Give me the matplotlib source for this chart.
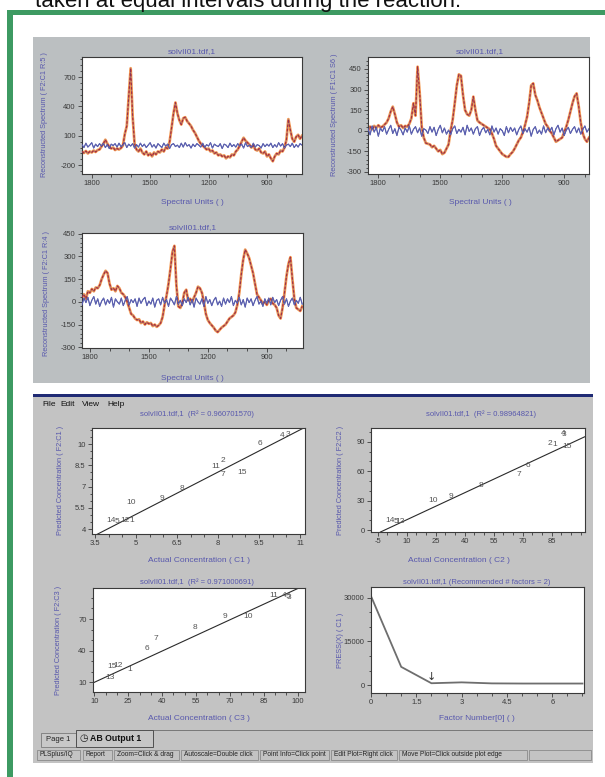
import numpy as np
import matplotlib
matplotlib.use("Agg")
import matplotlib.pyplot as plt
from matplotlib.patches import Rectangle
from matplotlib.ticker import FixedLocator, FuncFormatter

plt.rcParams['font.family'] = ['Liberation Sans', 'DejaVu Sans']

# ---------------- data ----------------
# spectral panel 1 (wavenumber 1850 -> 720, step 10)
spec1_x = np.arange(1850, 719, -10)
spec1_sig = [-60, -75, -55, -80, -60, -70, -50, -65, -45, -40,
             -10, 20, 60, 20, -10, -30, -20, -45, -30, -40,
             -25, 0, 120, 200, 500, 790, 300, 20, -40, -60,
             -30, -70, -90, -60, -100, -80, -110, -70, -90, -60,
             -70, -40, -60, -20, -30, 40, 180, 330, 440, 330,
             260, 215, 280, 290, 250, 225, 200, 160, 130, 90,
             50, 20, 0, -20, -40, -30, -60, -50, -80, -70,
             -100, -90, -110, -100, -130, -110, -120, -90, -100, -60,
             -40, 0, 40, 80, 50, 30, 10, -20, 0, -40,
             -50, -30, -70, -80, -60, -110, -90, -130, -160, -110,
             -80, -90, -50, -60, -20, 60, 270, 160, 70, 40,
             90, 110, 70, 100]
spec1_noise = [10, -20, 25, -15, 5, 30, -25, 15, -10, 20,
               -5, 25, -20, 10, -30, 15, 0, 20, -15, 25,
               -10, 5, 30, -20, 15, -5, 20, -25, 10, -15,
               25, -10, 15, -20, 5, 30, -15, 10, -25, 20,
               0, -20, 25, -5, 15, -30, 10, 20, -10, 5,
               -20, 25, -15, 30, -5, 10, -25, 15, -10, 20,
               5, -15, 25, -20, 10, -5, 30, -25, 15, 0,
               -10, 20, -30, 15, 5, -20, 25, -10, 10, -15,
               20, -5, 15, -25, 30, -10, 5, -20, 25, -15,
               10, 0, -25, 20, -10, 15, -5, 25, -20, 10,
               -15, 30, -5, 20, -25, 5, 15, -10, 25, -20,
               10, -15, 20, 5]

# spectral panel 2 (1850 -> 780, step 10)
spec2_x = np.arange(1850, 779, -10)
spec2_sig = [0, 30, 10, 35, 20, 40, 25, 30, 45, 60,
             90, 140, 175, 120, 60, 30, 40, 20, 35, 30,
             50, 90, 200, 110, 466, 280, 30, -50, -90, -95,
             -100, -120, -110, -130, -150, -140, -170, -160, -130, -100,
             0, 80, 200, 330, 410, 400, 260, 150, 120, 110,
             150, 248, 150, 75, 60, 50, 40, 30, 20, 10,
             -20, -60, -110, -130, -150, -170, -180, -190, -190, -170,
             -155, -130, -100, -70, -50, -10, 40, 100, 200, 330,
             345, 260, 221, 170, 130, 90, 50, 30, 0, -20,
             -50, -80, -70, -60, -50, -10, 30, 80, 140, 200,
             250, 272, 180, 60, -20, -60, -80, -50]
spec2_noise = [15, -30, 35, -10, 25, -40, 20, -5, 30, -25,
               10, 40, -20, 15, -35, 25, 5, -30, 20, -10,
               35, -25, 10, 30, -15, 20, -40, 15, 5, -20,
               30, -10, 25, -35, 10, 40, -15, 20, -25, 5,
               -30, 15, 35, -20, 10, -10, 25, -30, 40, -5,
               20, -25, 15, 30, -35, 5, 25, -15, 10, -30,
               35, -10, 20, -25, 15, 0, -35, 30, -15, 25,
               -5, 20, -30, 10, 35, -20, 15, -10, 25, -40,
               10, 30, -20, 5, -25, 35, -15, 20, -5, 25,
               -30, 15, 40, -10, 20, -35, 5, 25, -20, 10,
               30, -15, 20, -25, 10, 35, -10, 15]

# spectral panel 3 (1840 -> 720, step 10)
spec3_x = np.arange(1840, 719, -10)
spec3_sig = [30, 50, 20, 70, 60, 85, 70, 95, 90, 110,
             150, 180, 205, 190, 120, 80, 90, 70, 105, 90,
             60, 50, 30, 0, -40, -80, -90, -110, -120, -115,
             -140, -130, -150, -135, -145, -140, -160, -150, -165, -155,
             -140, -100, -20, 40, 120, 220, 330, 370, 110, -30,
             -40, -10, 60, 80, 10, 20, 0, 30, 60, 100,
             90, 60, 0, -80, -120, -140, -155, -170, -190, -200,
             -185, -170, -160, -150, -130, -110, -100, -90, -70, -20,
             60, 180, 280, 345, 320, 290, 240, 190, 120, 50,
             30, 10, -10, 0, -20, 10, 20, -10, -20, -40,
             -90, -110, -40, 60, 170, 250, 295, 150, 20, -40,
             -50, -60, -30]
spec3_noise = [-20, 25, -5, 30, -25, 10, 35, -15, 20, -30,
               5, 25, -20, 15, -10, 30, -35, 20, 0, -15,
               25, -25, 10, 35, -20, 15, -5, 20, -30, 25,
               -10, 15, 30, -25, 5, -15, 25, -35, 10, 20,
               -20, 30, -10, 15, -30, 25, 5, -20, 35, -15,
               10, -25, 20, -5, 30, -20, 15, -35, 25, 0,
               -15, 20, -30, 35, -10, 15, -25, 10, 30, -20,
               5, -30, 25, -15, 20, -5, 35, -25, 10, -10,
               30, -20, 15, -35, 25, -5, 20, -25, 10, 35,
               -15, 5, -30, 20, -10, 25, -20, 30, -5, 15,
               -25, 10, 35, -15, 20, -30, 5, 25, -20, 10,
               -10, 30, -15]

# concentration panels
c1_labels = ["4", "3", "6", "2", "11", "7", "15", "8", "9", "10", "14", "5", "12", "1"]
c1_actual = [10.35, 10.55, 9.54, 8.17, 7.9, 8.17, 8.87, 6.67, 5.95, 4.82, 4.08, 4.32, 4.58, 4.85]
c1_pred = [10.62, 10.68, 10.05, 8.85, 8.38, 7.82, 7.98, 6.88, 6.18, 5.85, 4.62, 4.55, 4.58, 4.58]
c1_fit_x = [3.5, 11.2]
c1_fit_y = [3.55, 11.2]

c2_labels = ["4", "3", "2", "1", "15", "6", "7", "8", "9", "10", "14", "5", "12"]
c2_actual = [90.7, 91.2, 84.1, 86.6, 92.7, 72.9, 67.8, 48.4, 32.9, 23.6, 1.5, 4.5, 6.5]
c2_pred = [98.6, 97.8, 88.4, 87.0, 85.0, 65.3, 56.1, 44.9, 34.0, 29.9, 9.5, 9.0, 8.6]
c2_fit_x = [-3.5, 102.0]
c2_fit_y = [-2.0, 95.0]

c3_labels = ["11", "4", "5", "3", "9", "10", "8", "7", "6", "15", "12", "1", "13"]
c3_actual = [89.5, 94.0, 95.6, 96.2, 67.6, 77.9, 54.6, 37.0, 33.3, 17.8, 20.6, 25.6, 17.1]
c3_pred = [92.0, 92.3, 91.8, 90.6, 72.5, 72.0, 62.0, 52.0, 42.5, 25.5, 25.8, 22.5, 14.4]
c3_fit_x = [9.5, 100.5]
c3_fit_y = [9.6, 99.4]

press_factor = [0, 1, 2, 3, 4, 5, 6, 7]
press_value = [30500, 6300, 700, 1000, 650, 600, 600, 600]
recommended = 2

# ---------------- figure helpers ----------------
W, H = 605, 777
fig = plt.figure(figsize=(W / 100, H / 100), dpi=100)
fig.patch.set_facecolor('white')


def rect(l, t, r, b, z=-5, **kw):
    fig.patches.append(Rectangle((l / W, 1 - b / H), (r - l) / W, (b - t) / H,
                                 transform=fig.transFigure, zorder=z, **kw))


def ftxt(x, y, s, **kw):
    kw.setdefault('ha', 'center')
    kw.setdefault('va', 'center')
    fig.text(x / W, 1 - y / H, s, **kw)


def ax_at(l, t, r, b):
    ax = fig.add_axes([l / W, 1 - b / H, (r - l) / W, (b - t) / H])
    ax.set_zorder(2)
    ax.set_facecolor('white')
    for s in ax.spines.values():
        s.set_color('#3a3a3a')
        s.set_linewidth(0.8)
    ax.tick_params(which='both', direction='out', colors='#3a3a3a',
                   labelsize=5.5, width=0.6, pad=1.5)
    ax.tick_params(which='major', length=3)
    ax.tick_params(which='minor', length=1.8)
    ax.xaxis.set_major_formatter(FuncFormatter(lambda v, p: '%g' % v))
    ax.yaxis.set_major_formatter(FuncFormatter(lambda v, p: '%g' % v))
    return ax


LBL = '#5858ad'

# heading text (clipped at top) and green frame
ftxt(35, 7, "taken at equal intervals during the reaction.", ha='left',
     va='baseline', fontsize=16, color='#111111')
rect(7, 10, 605, 15, color='#3d9a62', lw=0)
rect(7, 10, 12.5, 777, color='#3d9a62', lw=0)

# top grey panel
rect(33, 37, 590, 383, color='#bbbfc1', lw=0)


def spectral(l, t, r, b, x, sig, noise, xlim, ylim, yt, ylab, title_xy, xlab_xy, ylab_xy):
    ax = ax_at(l, t, r, b)
    ax.plot(x, sig, color='#f39b55', lw=2.0, zorder=2)
    ax.plot(x, sig, color='#d22a1e', lw=0.9, dashes=(2, 1.5), zorder=3)
    ax.plot(x, sig, color='#3a3f9a', lw=0.6, alpha=0.45, zorder=3)
    ax.plot(x, noise, color='#2a3494', lw=0.8, zorder=4)
    ax.plot(x, noise, color='#7a7ac0', lw=0.5, alpha=0.8, zorder=4)
    ax.set_xlim(*xlim)
    ax.set_ylim(*ylim)
    ax.xaxis.set_major_locator(FixedLocator([1800, 1500, 1200, 900]))
    ax.xaxis.set_minor_locator(FixedLocator(np.arange(700, 1900, 100)))
    ax.yaxis.set_major_locator(FixedLocator(yt))
    step = (yt[1] - yt[0]) / 5
    ax.yaxis.set_minor_locator(FixedLocator(np.arange(yt[0] - 5 * step, yt[-1] + 5 * step, step)))
    ftxt(title_xy[0], title_xy[1], "solvII01.tdf,1", fontsize=6, color=LBL)
    ftxt(xlab_xy[0], xlab_xy[1], "Spectral Units ( )", fontsize=6, color=LBL)
    ftxt(ylab_xy[0], ylab_xy[1], ylab, fontsize=5.3, color=LBL, rotation=90)
    return ax


spectral(82, 57, 302, 174, spec1_x, spec1_sig, spec1_noise, (1850, 720), (-290, 905),
         [-200, 100, 400, 700], "Reconstructed Spectrum ( F2:C1 R:5 )",
         (192, 51.5), (192, 203), (45, 115))
spectral(368, 57, 589, 174, spec2_x, spec2_sig, spec2_noise, (1850, 780), (-315, 537),
         [-300, -150, 0, 150, 300, 450], "Reconstructed Spectrum ( F1:C1 S6 )",
         (480, 51.5), (480, 203), (335, 115))
spectral(82, 233, 303, 348, spec3_x, spec3_sig, spec3_noise, (1840, 716), (-305, 455),
         [-300, -150, 0, 150, 300, 450], "Reconstructed Spectrum ( F2:C1 R:4 )",
         (193, 228), (192, 378), (47, 293))

# ---------------- bottom window ----------------
rect(33, 394, 593, 763, color='#c3c3c3', lw=0)
rect(33, 394, 593, 397, color='#1f2a74', lw=0)
for name, xx in [("File", 42), ("Edit", 60.5), ("View", 82), ("Help", 107)]:
    ftxt(xx, 405, name, ha='left', fontsize=6, color='#111111')


def scatter_panel(l, t, r, b, labels, xs, ys, fx, fy, xlim, ylim, xt, yt, xminor, yminor,
                  title, title_xy, xlab, xlab_xy, ylab, ylab_xy):
    ax = ax_at(l, t, r, b)
    ax.plot(fx, fy, color='#2a2a2a', lw=0.8, zorder=2)
    for lab, xv, yv in zip(labels, xs, ys):
        ax.text(xv, yv, lab, fontsize=6, color='#555555', ha='center', va='center', zorder=3)
    ax.set_xlim(*xlim)
    ax.set_ylim(*ylim)
    ax.xaxis.set_major_locator(FixedLocator(xt))
    ax.yaxis.set_major_locator(FixedLocator(yt))
    ax.xaxis.set_minor_locator(FixedLocator(np.arange(xt[0] - 20 * xminor, xt[-1] + 20 * xminor, xminor)))
    ax.yaxis.set_minor_locator(FixedLocator(np.arange(yt[0] - 20 * yminor, yt[-1] + 20 * yminor, yminor)))
    ftxt(title_xy[0], title_xy[1], title, fontsize=5.5, color=LBL)
    ftxt(xlab_xy[0], xlab_xy[1], xlab, fontsize=6, color=LBL)
    ftxt(ylab_xy[0], ylab_xy[1], ylab, fontsize=5.3, color=LBL, rotation=90)
    return ax


scatter_panel(92, 428, 305, 534, c1_labels, c1_actual, c1_pred, c1_fit_x, c1_fit_y,
              (3.39, 11.18), (3.65, 11.13), [3.5, 5, 6.5, 8, 9.5, 11], [4, 5.5, 7, 8.5, 10],
              0.5, 0.5, "solvII01.tdf,1  (R\u00b2 = 0.960701570)", (197, 414),
              "Actual Concentration ( C1 )", (199, 560),
              "Predicted Concentration ( F2:C1 )", (60, 480))
scatter_panel(371, 428, 585, 532, c2_labels, c2_actual, c2_pred, c2_fit_x, c2_fit_y,
              (-8.4, 102.2), (-2, 104), [-5, 10, 25, 40, 55, 70, 85], [0, 30, 60, 90],
              5, 10, "solvII01.tdf,1  (R\u00b2 = 0.98964821)", (481, 414),
              "Actual Concentration ( C2 )", (459, 560),
              "Predicted Concentration ( F2:C2 )", (340, 480))
scatter_panel(93, 588, 305, 692, c3_labels, c3_actual, c3_pred, c3_fit_x, c3_fit_y,
              (9.4, 103.2), (0.9, 99.4), [10, 25, 40, 55, 70, 85, 100], [10, 40, 70],
              5, 10, "solvII01.tdf,1  (R\u00b2 = 0.971000691)", (197, 582),
              "Actual Concentration ( C3 )", (199, 719),
              "Predicted Concentration ( F2:C3 )", (59, 640))

ax4 = ax_at(371, 587, 584, 693)
ax4.plot(press_factor, press_value, color='#6e6e6e', lw=1.3)
ax4.text(recommended, press_value[recommended] + 2200, "\u2193", fontsize=8,
         family='DejaVu Sans', color='#333333', ha='center', va='center')
ax4.set_xlim(0, 7.05)
ax4.set_ylim(-2640, 33630)
ax4.xaxis.set_major_locator(FixedLocator([0, 1.5, 3, 4.5, 6]))
ax4.xaxis.set_minor_locator(FixedLocator(np.arange(0, 7.1, 0.5)))
ax4.yaxis.set_major_locator(FixedLocator([0, 15000, 30000]))
ax4.yaxis.set_minor_locator(FixedLocator(np.arange(0, 33000, 5000)))
ftxt(477, 582, "solvII01.tdf,1 (Recommended # factors = 2)", fontsize=5.5, color=LBL)
ftxt(477, 718, "Factor Number[0] ( )", fontsize=6, color=LBL)
ftxt(340, 640, "PRESS(X) ( C1 )", fontsize=5.3, color=LBL, rotation=90)

# tabs
rect(153, 729.5, 593, 730.5, color='#7a7a7a', lw=0)
rect(33, 746.5, 593, 747.3, color='#7a7a7a', lw=0)
rect(41, 732.5, 76, 746.5, facecolor='#c8c8c8', edgecolor='#7a7a7a', lw=0.6)
ftxt(58, 739.5, "Page 1", fontsize=5.5, color='#222222')
rect(76, 729.5, 153, 747, facecolor='#c6c6c6', edgecolor='#505050', lw=0.7)
ftxt(83.5, 738.5, "\u25F7", fontsize=7, family='DejaVu Sans', color='#222222')
ftxt(90, 738.5, "AB Output 1", ha='left', fontsize=6.3, fontweight='bold', color='#111111')

# status bar
cells = [(36.5, 80, "PLSplus/IQ"), (83, 112, "Report"), (114, 179, "Zoom=Click & drag"),
         (181, 258, "Autoscale=Double click"), (260, 329, "Point Info=Click point"),
         (331, 397, "Edit Plot=Right click"), (399, 527, "Move Plot=Click outside plot edge"),
         (529, 591, "")]
for l, r, s in cells:
    rect(l, 749.5, r, 759.5, facecolor='#c3c3c3', edgecolor='#8a8a8a', lw=0.6)
    if s:
        ftxt(l + 3, 754.5, s, ha='left', fontsize=4.8, color='#222222')

fig.savefig('out.png', dpi=100)
